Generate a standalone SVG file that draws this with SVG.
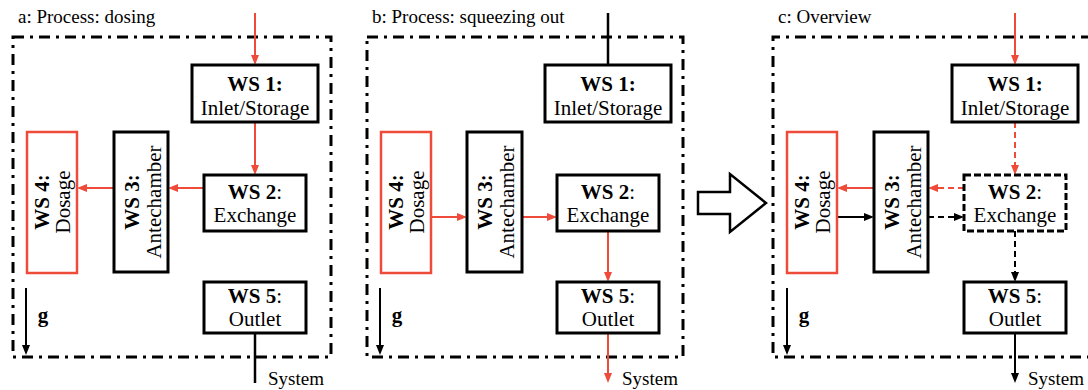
<svg xmlns="http://www.w3.org/2000/svg" width="1088" height="390" viewBox="0 0 1088 390" font-family="'Liberation Serif', 'DejaVu Serif', serif">
<style>
text{font-family:'Liberation Serif','DejaVu Serif',serif;fill:#000}
.t{font-size:19px}
.n{font-size:21px;text-anchor:middle}
.b{font-weight:bold}
.frame{fill:none;stroke:#000;stroke-width:3;stroke-dasharray:11 6 3 6}
.box{fill:#fff;stroke:#000;stroke-width:3}
.rbox{fill:#fff;stroke:#ef4b3b;stroke-width:2.5}
.dbox{fill:#fff;stroke:#000;stroke-width:3;stroke-dasharray:7 3}
.k{stroke:#000;stroke-width:2;fill:none}
.r{stroke:#ef4b3b;stroke-width:2;fill:none}
.kl{stroke:#000;stroke-width:2.5;fill:none}
.d{stroke-dasharray:6 4}
.ka{marker-end:url(#ak)}
.ra{marker-end:url(#ar)}
</style>
<defs>
<marker id="ak" markerUnits="userSpaceOnUse" markerWidth="10" markerHeight="8" refX="1" refY="4" orient="auto"><path d="M0,0 L10,4 L0,8 Z" fill="#000"/></marker>
<marker id="ar" markerUnits="userSpaceOnUse" markerWidth="10" markerHeight="8" refX="1" refY="4" orient="auto"><path d="M0,0 L10,4 L0,8 Z" fill="#ef4b3b"/></marker>
</defs>

<g id="titles">
<text class="t" x="18" y="23">a: Process: dosing</text>
<text class="t" x="372" y="23">b: Process: squeezing out</text>
<text class="t" x="778" y="23">c: Overview</text>
</g>

<g id="frames">
<rect class="frame" x="13" y="37" width="318" height="320"/>
<rect class="frame" x="367" y="37" width="316" height="320"/>
<path class="frame" d="M1092,37 H773 V357 H1092"/>
</g>

<g id="big-arrow">
<polygon points="698,192 730,192 730,174 766,203 730,232 730,214 698,214" fill="#fff" stroke="#000" stroke-width="2.5" stroke-linejoin="miter"/>
</g>

<g id="connectors">
<line class="r ra" x1="255" y1="13" x2="255" y2="56"/>
<line class="r ra" x1="255" y1="122" x2="255" y2="166"/>
<line class="r ra" x1="204" y1="188" x2="177" y2="188"/>
<line class="r ra" x1="114" y1="188" x2="86" y2="188"/>
<line class="kl" x1="255" y1="333" x2="255" y2="383"/>
<line class="k ka" x1="26" y1="288" x2="26" y2="346"/>
<line class="kl" x1="608" y1="13" x2="608" y2="65"/>
<line class="r ra" x1="431" y1="217" x2="458" y2="217"/>
<line class="r ra" x1="522" y1="217" x2="548" y2="217"/>
<line class="r ra" x1="608" y1="231" x2="608" y2="273"/>
<line class="r ra" x1="608" y1="333" x2="608" y2="374"/>
<line class="k ka" x1="380" y1="288" x2="380" y2="346"/>
<line class="r ra" x1="1015" y1="13" x2="1015" y2="56"/>
<line class="r ra d" x1="1015" y1="122" x2="1015" y2="166"/>
<line class="r ra d" x1="964" y1="188" x2="937" y2="188"/>
<line class="r ra" x1="874" y1="188" x2="846" y2="188"/>
<line class="k ka" x1="837" y1="217" x2="865" y2="217"/>
<line class="k ka d" x1="928" y1="217" x2="955" y2="217"/>
<line class="k ka d" x1="1015" y1="231" x2="1015" y2="273"/>
<line class="k ka" x1="1015" y1="333" x2="1015" y2="374"/>
<line class="k ka" x1="787" y1="288" x2="787" y2="346"/>
</g>

<g id="labels">
<text class="n b" x="43" y="322">g</text>
<text class="n b" x="397" y="322">g</text>
<text class="n b" x="804" y="322">g</text>
<text class="t" x="268" y="385">System</text>
<text class="t" x="622" y="385">System</text>
<text class="t" x="1028" y="385">System</text>
</g>

<g id="a-ws1"><rect class="box" x="192" y="65" width="126" height="57"/>
<text class="n b" x="255" y="91">WS 1:</text><text class="n" x="255" y="115">Inlet/Storage</text></g>
<g id="a-ws2"><rect class="box" x="204" y="175" width="102" height="56"/>
<text class="n" x="255" y="199"><tspan class="b">WS 2</tspan>:</text><text class="n" x="255" y="222">Exchange</text></g>
<g id="a-ws3"><rect class="box" x="114" y="132" width="54" height="140"/>
<text class="n b" transform="translate(139,202) rotate(-90)">WS 3:</text><text class="n" transform="translate(161,202) rotate(-90)">Antechamber</text></g>
<g id="a-ws4"><rect class="rbox" x="27" y="132" width="50" height="141"/>
<text class="n b" transform="translate(49,202) rotate(-90)">WS 4:</text><text class="n" transform="translate(70,202) rotate(-90)">Dosage</text></g>
<g id="a-ws5"><rect class="box" x="204" y="282" width="102" height="51"/>
<text class="n" x="255" y="303"><tspan class="b">WS 5</tspan>:</text><text class="n" x="255" y="326">Outlet</text></g>

<g id="b-ws1"><rect class="box" x="545" y="65" width="126" height="57"/>
<text class="n b" x="608" y="91">WS 1:</text><text class="n" x="608" y="115">Inlet/Storage</text></g>
<g id="b-ws2"><rect class="box" x="557" y="175" width="102" height="56"/>
<text class="n" x="608" y="199"><tspan class="b">WS 2</tspan>:</text><text class="n" x="608" y="222">Exchange</text></g>
<g id="b-ws3"><rect class="box" x="467" y="132" width="55" height="140"/>
<text class="n b" transform="translate(492,202) rotate(-90)">WS 3:</text><text class="n" transform="translate(514,202) rotate(-90)">Antechamber</text></g>
<g id="b-ws4"><rect class="rbox" x="381" y="132" width="50" height="141"/>
<text class="n b" transform="translate(403,202) rotate(-90)">WS 4:</text><text class="n" transform="translate(424,202) rotate(-90)">Dosage</text></g>
<g id="b-ws5"><rect class="box" x="557" y="282" width="102" height="51"/>
<text class="n" x="608" y="303"><tspan class="b">WS 5</tspan>:</text><text class="n" x="608" y="326">Outlet</text></g>

<g id="c-ws1"><rect class="box" x="952" y="65" width="126" height="57"/>
<text class="n b" x="1015" y="91">WS 1:</text><text class="n" x="1015" y="115">Inlet/Storage</text></g>
<g id="c-ws2"><rect class="dbox" x="964" y="175" width="102" height="56"/>
<text class="n" x="1015" y="199"><tspan class="b">WS 2</tspan>:</text><text class="n" x="1015" y="222">Exchange</text></g>
<g id="c-ws3"><rect class="box" x="874" y="132" width="54" height="140"/>
<text class="n b" transform="translate(899,202) rotate(-90)">WS 3:</text><text class="n" transform="translate(921,202) rotate(-90)">Antechamber</text></g>
<g id="c-ws4"><rect class="rbox" x="787" y="132" width="50" height="141"/>
<text class="n b" transform="translate(809,202) rotate(-90)">WS 4:</text><text class="n" transform="translate(830,202) rotate(-90)">Dosage</text></g>
<g id="c-ws5"><rect class="box" x="964" y="282" width="102" height="51"/>
<text class="n" x="1015" y="303"><tspan class="b">WS 5</tspan>:</text><text class="n" x="1015" y="326">Outlet</text></g>
</svg>
